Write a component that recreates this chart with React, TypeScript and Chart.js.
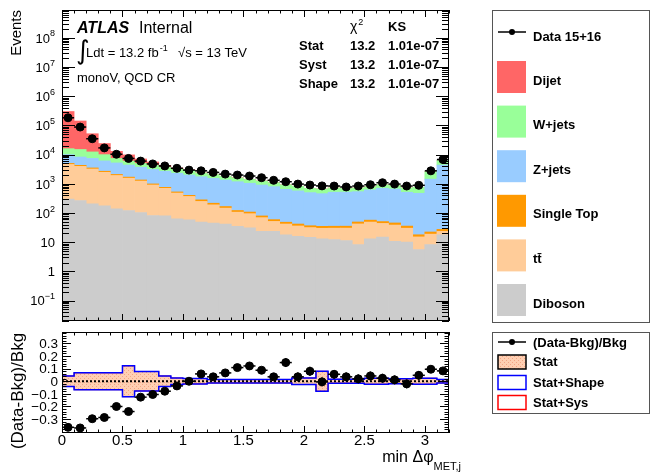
import React, { useEffect, useRef } from 'react';
import { Chart, registerables } from 'chart.js';
Chart.register(...registerables);

// ---------- data ----------
const binEdges = [0, 0.1, 0.2, 0.3, 0.4, 0.5, 0.6, 0.7, 0.8, 0.9, 1.0, 1.1, 1.2, 1.3, 1.4, 1.5, 1.6, 1.7, 1.8, 1.9, 2.0, 2.1, 2.2, 2.3, 2.4, 2.5, 2.6, 2.7, 2.8, 2.9, 3.0, 3.1, 3.2];

const dataCounts = [183000, 88000, 35000, 17000, 10300, 7400, 6000, 4800, 4100, 3400, 2950, 2790, 2460, 2150, 2000, 1850, 1620, 1320, 1180, 980, 910, 850, 840, 780, 840, 930, 1090, 980, 840, 890, 2790, 6800];
const diboson = [303, 268, 205, 175, 138, 122, 104, 82, 80, 63, 59, 49, 45.6, 42, 35, 31, 23.5, 23.5, 18, 16, 14.7, 13, 12.3, 11.4, 8.3, 13, 15, 10.7, 10.2, 5.6, 8.3, 18];
const ttbar = [4300, 3690, 3015, 2310, 1790, 1440, 1140, 830, 620, 420, 310, 200, 145, 105, 72, 64, 46, 28, 24, 20, 17, 17, 18, 19, 34, 36, 29, 28, 20, 9.6, 10.6, 5.5];
const singleTop = [400, 340, 280, 215, 170, 135, 110, 80, 60, 45, 35, 34, 26, 20, 15, 13, 10, 8, 6.5, 6, 5, 5, 5, 5, 7, 8, 7, 7, 5.5, 2.8, 3.5, 4];
const zjets = [5000, 4000, 3900, 3400, 3100, 2700, 2350, 2110, 1940, 1780, 1600, 1460, 1320, 1180, 1060, 940, 830, 740, 600, 530, 463, 425, 480, 485, 490, 563, 654, 619, 479, 457, 1428, 4372];
const wjets = [6000, 6700, 5000, 3900, 2200, 1600, 1300, 1200, 1000, 1000, 900, 610, 540, 450, 420, 370, 340, 300, 280, 250, 200, 200, 205, 170, 180, 170, 225, 205, 205, 285, 1150, 1900];
const dijet = [284000, 127000, 39600, 14000, 5600, 3800, 2100, 1300, 600, 200, 100, 40, 30, 25, 20, 15, 12, 10, 8, 6, 5, 5, 5, 4, 4, 4, 4, 4, 3, 3, 10, 20];

const ratio = [-0.365, -0.37, -0.297, -0.287, -0.2, -0.24, -0.126, -0.105, -0.079, -0.037, 0.0, 0.058, 0.035, 0.066, 0.108, 0.121, 0.087, 0.035, 0.148, 0.035, 0.079, -0.005, 0.055, 0.035, 0.019, 0.042, 0.024, 0.011, -0.021, 0.047, 0.095, 0.082];
const ratioErr = [0.01, 0.01, 0.01, 0.01, 0.01, 0.01, 0.01, 0.01, 0.01, 0.01, 0.01, 0.02, 0.02, 0.02, 0.02, 0.02, 0.02, 0.02, 0.035, 0.035, 0.035, 0.035, 0.035, 0.035, 0.035, 0.035, 0.035, 0.035, 0.035, 0.035, 0.02, 0.02];
const statErr = [0.038, 0.063, 0.063, 0.063, 0.063, 0.118, 0.073, 0.073, 0.038, 0.022, 0.017, 0.017, 0.01, 0.01, 0.01, 0.01, 0.01, 0.01, 0.01, 0.022, 0.022, 0.075, 0.012, 0.012, 0.012, 0.02, 0.02, 0.015, 0.015, 0.02, 0.02, 0.01];
const shapeErr = [0.042, 0.067, 0.067, 0.067, 0.067, 0.122, 0.077, 0.077, 0.042, 0.026, 0.021, 0.021, 0.014, 0.014, 0.014, 0.014, 0.014, 0.014, 0.014, 0.026, 0.026, 0.079, 0.016, 0.016, 0.016, 0.024, 0.024, 0.019, 0.019, 0.024, 0.024, 0.014];
const sysErr = [0.042, 0.067, 0.067, 0.067, 0.067, 0.122, 0.077, 0.077, 0.042, 0.026, 0.021, 0.021, 0.014, 0.014, 0.014, 0.014, 0.014, 0.014, 0.014, 0.026, 0.026, 0.079, 0.016, 0.016, 0.016, 0.024, 0.024, 0.019, 0.019, 0.024, 0.024, 0.014];

const yTickExponents = [-1, 0, 1, 2, 3, 4, 5, 6, 7, 8];
const ratioTickLabels = ['0.3', '0.2', '0.1', '0', '\u22120.1', '\u22120.2', '\u22120.3'];
const ratioTickValues = [0.3, 0.2, 0.1, 0, -0.1, -0.2, -0.3];
const xTickLabels = ['0', '0.5', '1', '1.5', '2', '2.5', '3'];
const xTickValues = [0, 0.5, 1, 1.5, 2, 2.5, 3];

const stackDefs: [string, number[], string][] = [
  ['Diboson', diboson, '#cccccc'],
  ['t\u0074\u0304', ttbar, '#ffcc99'],
  ['Single Top', singleTop, '#ff9900'],
  ['Z+jets', zjets, '#99ccff'],
  ['W+jets', wjets, '#99ff99'],
  ['Dijet', dijet, '#ff6666'],
];

const FONT = '"Liberation Sans", Arial, Helvetica, sans-serif';
const TOP_H = 326;
const BOT_H = 147;
const W = 651;

function ln(ctx: CanvasRenderingContext2D, x1: number, y1: number, x2: number, y2: number) {
  ctx.beginPath();
  ctx.moveTo(x1, y1);
  ctx.lineTo(x2, y2);
  ctx.stroke();
}

function xTicks(ctx: CanvasRenderingContext2D, xs: any, a: any, majLen: number, minLen: number) {
  const n = Math.round((xs.max - xs.min) / 0.1);
  for (let k = 0; k <= n; k++) {
    const v = xs.min + k * 0.1;
    const len = k % 5 === 0 ? majLen : minLen;
    const px = Math.round(xs.getPixelForValue(v)) + 0.5;
    ln(ctx, px, a.bottom, px, a.bottom - len);
    ln(ctx, px, a.top, px, a.top + len);
  }
}

function frame(ctx: CanvasRenderingContext2D, a: any) {
  ctx.strokeStyle = '#000';
  ctx.lineWidth = 1;
  const l = Math.round(a.left) + 0.5, t = Math.round(a.top) + 0.5;
  const r = Math.round(a.right) - 0.5, b = Math.round(a.bottom) - 0.5;
  ctx.strokeRect(l, t, r - l, b - t);
}

export default function App() {
  const topRef = useRef<HTMLCanvasElement>(null);
  const botRef = useRef<HTMLCanvasElement>(null);

  useEffect(() => {
    const centers = binEdges.slice(0, -1).map((e, i) => (e + binEdges[i + 1]) / 2);
    const mk = (arr: number[]) => arr.map((v, i) => ({ x: centers[i], y: v }));

    const topPlugin = {
      id: 'topDecor',
      afterDraw(chart: any) {
        const ctx: CanvasRenderingContext2D = chart.ctx;
        const a = chart.chartArea;
        const xs = chart.scales.x;
        const ys = chart.scales.y;
        ctx.save();
        ctx.strokeStyle = '#000';
        ctx.lineWidth = 1.5;
        dataCounts.forEach((v, i) => {
          const y = ys.getPixelForValue(v);
          ln(ctx, xs.getPixelForValue(binEdges[i]), y, xs.getPixelForValue(binEdges[i + 1]), y);
        });
        frame(ctx, a);
        ctx.lineWidth = 1;
        xTicks(ctx, xs, a, 7, 3.5);
        for (let e = -2; e <= 9; e++) {
          for (let m = 1; m <= 9; m++) {
            const v = m * Math.pow(10, e);
            if (v < ys.min || v > ys.max) continue;
            const py = Math.round(ys.getPixelForValue(v)) + 0.5;
            const len = m === 1 ? 13 : 7;
            ln(ctx, a.left, py, a.left + len, py);
            ln(ctx, a.right, py, a.right - len, py);
          }
        }
        ctx.fillStyle = '#000';
        ctx.textBaseline = 'alphabetic';
        yTickExponents.forEach((e) => {
          const py = ys.getPixelForValue(Math.pow(10, e));
          const xr = 55;
          const base = e === 0 ? '1' : '10';
          const sup = e === 0 || e === 1 ? '' : (e < 0 ? '\u2212' + String(-e) : String(e));
          ctx.font = `13px ${FONT}`;
          const wb = ctx.measureText(base).width;
          ctx.font = `9px ${FONT}`;
          const ws = sup ? ctx.measureText(sup).width : 0;
          ctx.font = `13px ${FONT}`;
          ctx.textAlign = 'left';
          ctx.fillText(base, xr - wb - ws, py + 4.7);
          if (sup) {
            ctx.font = `9px ${FONT}`;
            ctx.fillText(sup, xr - ws, py - 1.5);
          }
        });
        ctx.save();
        ctx.translate(21, 10);
        ctx.rotate(-Math.PI / 2);
        ctx.font = `15px ${FONT}`;
        ctx.textAlign = 'right';
        ctx.textBaseline = 'alphabetic';
        ctx.fillText('Events', 0, 0);
        ctx.restore();

        ctx.textAlign = 'left';
        ctx.textBaseline = 'alphabetic';
        ctx.font = `italic bold 16px ${FONT}`;
        ctx.fillText('ATLAS', 77, 33);
        ctx.font = `16px ${FONT}`;
        ctx.fillText('Internal', 139, 33);
        ctx.font = `26px "DejaVu Sans", ${FONT}`;
        ctx.fillText('\u222B', 76, 59);
        ctx.font = `13px ${FONT}`;
        ctx.fillText('Ldt = 13.2 fb', 86, 57);
        const wl = ctx.measureText('Ldt = 13.2 fb').width;
        ctx.font = `9px ${FONT}`;
        ctx.fillText('-1', 86 + wl + 1, 51);
        ctx.font = `13px ${FONT}`;
        ctx.fillText('\u221As = 13 TeV', 178, 57);
        ctx.fillText('monoV, QCD CR', 77, 82);

        ctx.font = `14px ${FONT}`;
        ctx.fillText('\u03C7', 350, 31);
        const wchi = ctx.measureText('\u03C7').width;
        ctx.font = `9px ${FONT}`;
        ctx.fillText('2', 350 + wchi + 1, 25);
        ctx.font = `bold 13px ${FONT}`;
        ctx.fillText('KS', 388, 31);
        const rows = ['Stat', 'Syst', 'Shape'];
        rows.forEach((r, i) => {
          const by = 50 + i * 19;
          ctx.fillText(r, 299, by);
          ctx.fillText('13.2', 350, by);
          ctx.fillText('1.01e-07', 388, by);
        });

        ctx.strokeStyle = '#555';
        ctx.lineWidth = 1;
        ctx.strokeRect(492.5, 10.5, 157, 312);
        ctx.font = `bold 13px ${FONT}`;
        ctx.textBaseline = 'middle';
        ctx.strokeStyle = '#000';
        ctx.lineWidth = 1.5;
        ln(ctx, 498, 32, 526, 32);
        ctx.beginPath();
        ctx.arc(512, 32, 3, 0, Math.PI * 2);
        ctx.fill();
        ctx.fillText('Data 15+16', 533, 37);
        const legendOrder = stackDefs.slice().reverse();
        legendOrder.forEach(([label, , color], k) => {
          const top = 61 + 44.6 * k;
          ctx.fillStyle = color;
          ctx.fillRect(497, top, 29, 32);
          ctx.fillStyle = '#000';
          ctx.fillText(label, 533, top + 20);
        });
        ctx.restore();
      },
    };

    const top = new Chart(topRef.current as HTMLCanvasElement, {
      type: 'bar',
      data: {
        datasets: [
          {
            type: 'scatter',
            label: 'Data 15+16',
            data: mk(dataCounts),
            backgroundColor: '#000',
            borderColor: '#000',
            pointRadius: 4,
            pointHoverRadius: 4,
            stack: 'data',
          } as any,
          ...stackDefs.map(([label, arr, color]) => ({
            type: 'bar',
            label,
            data: mk(arr),
            backgroundColor: color,
            borderWidth: 0,
            stack: 'bkg',
            barPercentage: 1,
            categoryPercentage: 1,
          })),
        ],
      },
      options: {
        animation: false,
        responsive: false,
        maintainAspectRatio: false,
        events: [],
        layout: { padding: { left: 0, right: W - 449, top: 10, bottom: 0 } },
        plugins: { legend: { display: false }, tooltip: { enabled: false } },
        scales: {
          x: {
            type: 'linear', min: 0, max: 3.2, stacked: true, offset: false,
            ticks: { display: false, stepSize: 0.1 },
            grid: { display: false }, border: { display: false },
            afterFit: (s: any) => { s.height = 3; },
          },
          y: {
            type: 'logarithmic', min: 0.02, max: 9e8, stacked: true,
            ticks: { display: false },
            grid: { display: false }, border: { display: false },
            afterFit: (s: any) => { s.width = 62; },
          },
        },
      } as any,
      plugins: [topPlugin],
    });

    const pc = document.createElement('canvas');
    pc.width = 4; pc.height = 4;
    const g = pc.getContext('2d') as CanvasRenderingContext2D;
    g.fillStyle = '#ffcfb2';
    g.fillRect(0, 0, 4, 4);
    g.fillStyle = '#f2a585';
    g.fillRect(0, 0, 1, 1);
    g.fillRect(2, 2, 1, 1);
    const botCanvas = botRef.current as HTMLCanvasElement;
    const pattern = (botCanvas.getContext('2d') as CanvasRenderingContext2D).createPattern(pc, 'repeat');

    const stepOutline = (ctx: CanvasRenderingContext2D, xs: any, ys: any, errs: number[], sign: number) => {
      ctx.beginPath();
      errs.forEach((e, i) => {
        const x0 = xs.getPixelForValue(binEdges[i]);
        const x1 = xs.getPixelForValue(binEdges[i + 1]);
        const y = ys.getPixelForValue(sign * e);
        if (i === 0) ctx.moveTo(x0, y); else ctx.lineTo(x0, y);
        ctx.lineTo(x1, y);
      });
      ctx.stroke();
    };

    const botPlugin = {
      id: 'botDecor',
      afterDatasetDraw(chart: any, args: any) {
        if (args.meta.type !== 'bar') return;
        const ctx: CanvasRenderingContext2D = chart.ctx;
        const xs = chart.scales.x;
        const ys = chart.scales.y;
        const a = chart.chartArea;
        ctx.save();
        ctx.lineWidth = 0.8;
        ctx.strokeStyle = '#ff0000';
        stepOutline(ctx, xs, ys, sysErr, 1);
        stepOutline(ctx, xs, ys, sysErr, -1);
        ctx.lineWidth = 1.5;
        ctx.strokeStyle = '#0000ff';
        stepOutline(ctx, xs, ys, shapeErr, 1);
        stepOutline(ctx, xs, ys, shapeErr, -1);
        ctx.strokeStyle = '#000';
        ctx.lineWidth = 2;
        ctx.setLineDash([2, 2]);
        const y0 = ys.getPixelForValue(0);
        ln(ctx, a.left, y0, a.right, y0);
        ctx.restore();
      },
      afterDraw(chart: any) {
        const ctx: CanvasRenderingContext2D = chart.ctx;
        const a = chart.chartArea;
        const xs = chart.scales.x;
        const ys = chart.scales.y;
        ctx.save();
        ctx.strokeStyle = '#000';
        ctx.lineWidth = 1.5;
        ratio.forEach((v, i) => {
          const y = ys.getPixelForValue(v);
          const xc = xs.getPixelForValue(centers[i]);
          ln(ctx, xs.getPixelForValue(binEdges[i]), y, xs.getPixelForValue(binEdges[i + 1]), y);
          ln(ctx, xc, ys.getPixelForValue(v - ratioErr[i]), xc, ys.getPixelForValue(v + ratioErr[i]));
        });
        frame(ctx, a);
        ctx.lineWidth = 1;
        xTicks(ctx, xs, a, 7, 3.5);
        const nMinor = Math.round((0.4 + 0.4) / 0.02);
        for (let k = 0; k <= nMinor; k++) {
          const v = -0.4 + k * 0.02;
          if (v < ys.min - 1e-9 || v > ys.max + 1e-9) continue;
          const py = Math.round(ys.getPixelForValue(v)) + 0.5;
          const len = k % 5 === 0 ? 9 : 4.5;
          ln(ctx, a.left, py, a.left + len, py);
          ln(ctx, a.right, py, a.right - len, py);
        }
        ctx.fillStyle = '#000';
        ctx.font = `13.5px ${FONT}`;
        ctx.textAlign = 'right';
        ctx.textBaseline = 'alphabetic';
        ratioTickValues.forEach((v, i) => {
          ctx.fillText(ratioTickLabels[i], 58, ys.getPixelForValue(v) + 4.8);
        });
        ctx.font = `15px ${FONT}`;
        ctx.textAlign = 'center';
        xTickValues.forEach((v, i) => {
          ctx.fillText(xTickLabels[i], xs.getPixelForValue(v), 118.5);
        });
        ctx.save();
        ctx.translate(23, 65);
        ctx.rotate(-Math.PI / 2);
        ctx.font = `17px ${FONT}`;
        ctx.textAlign = 'center';
        ctx.fillText('(Data-Bkg)/Bkg', 0, 0);
        ctx.restore();
        ctx.textAlign = 'left';
        ctx.font = `11px ${FONT}`;
        const wsub = ctx.measureText('MET,j').width;
        ctx.font = `16px ${FONT}`;
        const wmain = ctx.measureText('min \u0394\u03C6').width;
        const xr = 461;
        ctx.fillText('min \u0394\u03C6', xr - wsub - wmain, 135.7);
        ctx.font = `11px ${FONT}`;
        ctx.fillText('MET,j', xr - wsub, 144);

        const oy = -326;
        ctx.strokeStyle = '#555';
        ctx.lineWidth = 1;
        ctx.strokeRect(492.5, 332.5 + oy, 157, 81);
        ctx.font = `bold 13px ${FONT}`;
        ctx.textBaseline = 'middle';
        ctx.textAlign = 'left';
        ctx.strokeStyle = '#000';
        ctx.lineWidth = 1.5;
        ln(ctx, 498, 342 + oy, 526, 342 + oy);
        ctx.beginPath();
        ctx.arc(512, 342 + oy, 3, 0, Math.PI * 2);
        ctx.fill();
        ctx.fillText('(Data-Bkg)/Bkg', 533, 343 + oy);
        ctx.fillStyle = pattern as any;
        ctx.fillRect(498, 355 + oy, 28, 14);
        ctx.strokeStyle = '#000';
        ctx.lineWidth = 1.5;
        ctx.strokeRect(498, 355 + oy, 28, 14);
        ctx.fillStyle = '#000';
        ctx.fillText('Stat', 533, 362.5 + oy);
        ctx.strokeStyle = '#0000ff';
        ctx.strokeRect(498, 375.5 + oy, 28, 14);
        ctx.fillText('Stat+Shape', 533, 383 + oy);
        ctx.strokeStyle = '#ff0000';
        ctx.strokeRect(498, 395.5 + oy, 28, 14);
        ctx.fillText('Stat+Sys', 533, 403 + oy);
        ctx.restore();
      },
    };

    const bot = new Chart(botCanvas, {
      type: 'bar',
      data: {
        datasets: [
          {
            type: 'scatter',
            label: '(Data-Bkg)/Bkg',
            data: mk(ratio),
            backgroundColor: '#000',
            borderColor: '#000',
            pointRadius: 4,
            pointHoverRadius: 4,
          } as any,
          {
            type: 'bar',
            label: 'Stat',
            data: statErr.map((e, i) => ({ x: centers[i], y: [-e, e] })),
            backgroundColor: pattern,
            borderWidth: 0,
            barPercentage: 1,
            categoryPercentage: 1,
          },
        ],
      },
      options: {
        animation: false,
        responsive: false,
        maintainAspectRatio: false,
        events: [],
        layout: { padding: { left: 0, right: W - 449, top: 6, bottom: 0 } },
        plugins: { legend: { display: false }, tooltip: { enabled: false } },
        scales: {
          x: {
            type: 'linear', min: 0, max: 3.2, offset: false,
            ticks: { display: false, stepSize: 0.1 },
            grid: { display: false }, border: { display: false },
            afterFit: (s: any) => { s.height = 40; },
          },
          y: {
            type: 'linear', min: -0.41, max: 0.39,
            ticks: { display: false },
            grid: { display: false }, border: { display: false },
            afterFit: (s: any) => { s.width = 62; },
          },
        },
      } as any,
      plugins: [botPlugin],
    });

    return () => {
      top.destroy();
      bot.destroy();
    };
  }, []);

  return (
    <div style={{ position: 'absolute', left: 0, top: 0, width: W, height: 473, background: '#fff' }}>
      <canvas ref={topRef} width={W} height={TOP_H} style={{ display: 'block', position: 'absolute', left: 0, top: 0, width: W, height: TOP_H }} />
      <canvas ref={botRef} width={W} height={BOT_H} style={{ display: 'block', position: 'absolute', left: 0, top: TOP_H, width: W, height: BOT_H }} />
    </div>
  );
}
